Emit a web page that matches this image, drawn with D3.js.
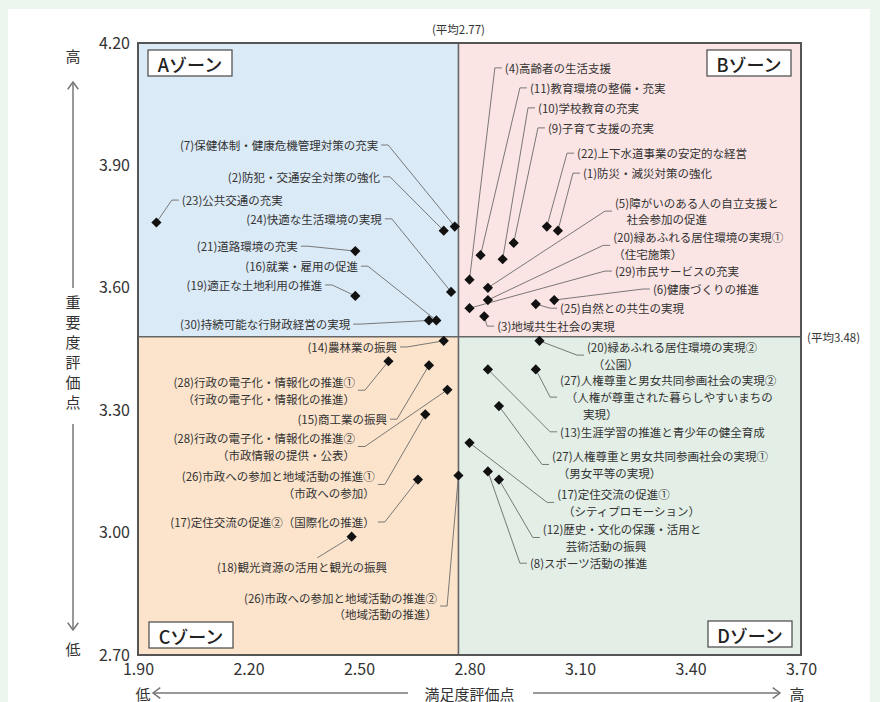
<!DOCTYPE html>
<html>
<head>
<meta charset="utf-8">
<script src="https://cdn.jsdelivr.net/npm/d3@7"></script>
<style>
  body { margin: 0; background: #ecf5ee; }
  svg { display: block; font-family: "Noto Sans CJK JP", "Noto Sans", sans-serif; }
</style>
</head>
<body>
<svg id="chart" width="880" height="702"></svg>
<script>
// 施策項目（ラベルは行ごと）
const itemNames = [
    ["(1)防災・減災対策の強化"],
    ["(2)防犯・交通安全対策の強化"],
    ["(3)地域共生社会の実現"],
    ["(4)高齢者の生活支援"],
    ["(5)障がいのある人の自立支援と", "　社会参加の促進"],
    ["(6)健康づくりの推進"],
    ["(7)保健体制・健康危機管理対策の充実"],
    ["(8)スポーツ活動の推進"],
    ["(9)子育て支援の充実"],
    ["(10)学校教育の充実"],
    ["(11)教育環境の整備・充実"],
    ["(12)歴史・文化の保護・活用と", "　　芸術活動の振興"],
    ["(13)生涯学習の推進と青少年の健全育成"],
    ["(14)農林業の振興"],
    ["(15)商工業の振興"],
    ["(16)就業・雇用の促進"],
    ["(17)定住交流の促進①", "　（シティプロモーション）"],
    ["(17)定住交流の促進②（国際化の推進）"],
    ["(18)観光資源の活用と観光の振興"],
    ["(19)適正な土地利用の推進"],
    ["(20)緑あふれる居住環境の実現①", "（住宅施策）"],
    ["(20)緑あふれる居住環境の実現②", "　（公園）"],
    ["(21)道路環境の充実"],
    ["(22)上下水道事業の安定的な経営"],
    ["(23)公共交通の充実"],
    ["(24)快適な生活環境の実現"],
    ["(25)自然との共生の実現"],
    ["(26)市政への参加と地域活動の推進①", "（市政への参加）"],
    ["(26)市政への参加と地域活動の推進②", "（地域活動の推進）"],
    ["(27)人権尊重と男女共同参画社会の実現①", "　（男女平等の実現）"],
    ["(27)人権尊重と男女共同参画社会の実現②", "　（人権が尊重された暮らしやすいまちの", "　　実現）"],
    ["(28)行政の電子化・情報化の推進①", "（行政の電子化・情報化の推進）"],
    ["(28)行政の電子化・情報化の推進②", "（市政情報の提供・公表）"],
    ["(29)市民サービスの充実"],
    ["(30)持続可能な行財政経営の実現"]
];

// 満足度評価点
const satisfaction = [
    3.04, 2.73, 2.84, 2.80, 2.85, 3.03, 2.76, 2.85, 2.92, 2.89,
    2.83, 2.88, 2.85, 2.73, 2.69, 2.71, 2.80, 2.66, 2.48, 2.49,
    2.85, 2.99, 2.49, 3.01, 1.95, 2.75, 2.98, 2.68, 2.77, 2.88,
    2.98, 2.58, 2.74, 2.80, 2.69
];

// 重要度評価点
const importance = [
    3.74, 3.74, 3.53, 3.62, 3.60, 3.57, 3.75, 3.15, 3.71, 3.67,
    3.68, 3.13, 3.40, 3.47, 3.41, 3.52, 3.22, 3.13, 2.99, 3.58,
    3.57, 3.47, 3.69, 3.75, 3.76, 3.59, 3.56, 3.29, 3.14, 3.31,
    3.40, 3.42, 3.35, 3.55, 3.52
];

const avgSatisfaction = 2.77;
const avgImportance = 3.48;

const xTicks = [1.9, 2.2, 2.5, 2.8, 3.1, 3.4, 3.7];
const yTicks = [2.7, 3.0, 3.3, 3.6, 3.9, 4.2];

const zoneNames = ["Aゾーン", "Bゾーン", "Cゾーン", "Dゾーン"];

// ラベル配置（データ座標、ラベル中心の高さと寄せ方向）
const labelLayout = [
    [3.108, 3.881, "start"], [2.557, 3.872, "end"], [2.875, 3.506, "start"],
    [2.896, 4.139, "start"], [3.195, 3.788, "start"], [3.298, 3.597, "start"],
    [2.552, 3.950, "end"], [2.964, 2.925, "start"], [3.013, 3.992, "start"],
    [2.986, 4.041, "start"], [2.964, 4.090, "start"], [2.999, 2.988, "start"],
    [3.046, 3.247, "start"], [2.603, 3.455, "end"], [2.576, 3.278, "end"],
    [2.497, 3.653, "end"], [3.038, 3.074, "start"], [2.543, 3.026, "end"],
    [2.576, 2.916, "top"], [2.400, 3.607, "end"], [3.190, 3.704, "start"],
    [3.119, 3.435, "start"], [2.334, 3.702, "end"], [3.092, 3.930, "start"],
    [2.019, 3.815, "start"], [2.562, 3.769, "end"], [3.046, 3.550, "start"],
    [2.543, 3.118, "end"], [2.712, 2.820, "end"], [3.024, 3.167, "start"],
    [3.046, 3.332, "start"], [2.489, 3.349, "end"], [2.489, 3.211, "end"],
    [3.195, 3.641, "start"], [2.476, 3.511, "end"]
];

const svg = d3.select("#chart");
const W = 880, H = 702;
const plot = { left: 138, right: 801, top: 43, bottom: 655 };
const fontSize = 11.5;
const lineH = 16.8;

const x = d3.scaleLinear().domain([1.9, 3.7]).range([plot.left, plot.right]);
const y = d3.scaleLinear().domain([2.7, 4.2]).range([plot.bottom, plot.top]);

// white panel
svg.append("rect")
    .attr("x", 8).attr("y", 9)
    .attr("width", 862).attr("height", H - 9)
    .attr("fill", "#fff");

// zones
const xa = x(avgSatisfaction), ya = y(avgImportance);
const zoneRects = [
    { x0: plot.left, x1: xa, y0: plot.top, y1: ya, fill: "#dbeaf7" },
    { x0: xa, x1: plot.right, y0: plot.top, y1: ya, fill: "#fbe4e4" },
    { x0: plot.left, x1: xa, y0: ya, y1: plot.bottom, fill: "#fce4cc" },
    { x0: xa, x1: plot.right, y0: ya, y1: plot.bottom, fill: "#e2eee6" }
];
svg.append("g").selectAll("rect")
    .data(zoneRects)
    .join("rect")
    .attr("x", d => d.x0).attr("y", d => d.y0)
    .attr("width", d => d.x1 - d.x0).attr("height", d => d.y1 - d.y0)
    .attr("fill", d => d.fill);

// average lines
svg.append("line")
    .attr("x1", xa).attr("x2", xa).attr("y1", plot.top).attr("y2", plot.bottom)
    .attr("stroke", "#666").attr("stroke-width", 1.6);
svg.append("line")
    .attr("x1", plot.left).attr("x2", plot.right).attr("y1", ya).attr("y2", ya)
    .attr("stroke", "#666").attr("stroke-width", 1.6);

// frame
svg.append("rect")
    .attr("x", plot.left).attr("y", plot.top)
    .attr("width", plot.right - plot.left).attr("height", plot.bottom - plot.top)
    .attr("fill", "none").attr("stroke", "#555").attr("stroke-width", 2);

// zone label boxes
const boxW = 84, boxH = 26;
const boxPos = [
    [plot.left + 10, plot.top + 7],
    [plot.right - 10 - boxW, plot.top + 7],
    [plot.left + 11, plot.bottom - 7 - boxH],
    [plot.right - 9 - boxW, plot.bottom - 8 - boxH]
];
const zb = svg.append("g").selectAll("g")
    .data(zoneNames)
    .join("g")
    .attr("transform", (d, i) => `translate(${boxPos[i][0]},${boxPos[i][1]})`);
zb.append("rect")
    .attr("width", boxW).attr("height", boxH)
    .attr("fill", "#fff").attr("stroke", "#555").attr("stroke-width", 1.3);
zb.append("text")
    .attr("x", boxW / 2).attr("y", boxH / 2 + 1)
    .attr("text-anchor", "middle")
    .attr("dominant-baseline", "central")
    .attr("font-size", 18).attr("font-weight", 500)
    .attr("fill", "#222")
    .text(d => d);

// axes
const xAxis = svg.append("g")
    .attr("transform", `translate(0,${plot.bottom})`)
    .call(d3.axisBottom(x).tickValues(xTicks).tickSize(0).tickPadding(9).tickFormat(d3.format(".2f")));
const yAxis = svg.append("g")
    .attr("transform", `translate(${plot.left},0)`)
    .call(d3.axisLeft(y).tickValues(yTicks).tickSize(0).tickPadding(8).tickFormat(d3.format(".2f")));
[xAxis, yAxis].forEach(a => {
    a.select(".domain").remove();
    a.attr("font-family", null).attr("font-size", 16);
    a.selectAll("text").attr("fill", "#333");
});

// average captions
svg.append("text")
    .attr("x", xa).attr("y", 29)
    .attr("text-anchor", "middle").attr("dominant-baseline", "central")
    .attr("font-size", 11.5).attr("fill", "#333")
    .text(`(平均${avgSatisfaction.toFixed(2)})`);
svg.append("text")
    .attr("x", plot.right + 6).attr("y", ya)
    .attr("dominant-baseline", "central")
    .attr("font-size", 11.5).attr("fill", "#333")
    .text(`(平均${avgImportance.toFixed(2)})`);

// axis titles with arrows
const arrowColor = "#777";
const ax = svg.append("g").attr("fill", "#333").attr("font-size", 15);
const cx = (plot.left + plot.right) / 2;
const tyX = 693;
ax.append("text").attr("x", cx).attr("y", tyX)
    .attr("text-anchor", "middle").attr("dominant-baseline", "central")
    .text("満足度評価点");
ax.append("text").attr("x", 143).attr("y", tyX)
    .attr("text-anchor", "middle").attr("dominant-baseline", "central").text("低");
ax.append("text").attr("x", 797).attr("y", tyX)
    .attr("text-anchor", "middle").attr("dominant-baseline", "central").text("高");

const cy = (plot.top + plot.bottom) / 2;
const yTitleX = 73;
ax.append("text").attr("x", yTitleX).attr("y", cy + 6)
    .attr("text-anchor", "middle")
    .style("writing-mode", "vertical-rl")
    .attr("letter-spacing", 5)
    .text("重要度評価点");
ax.append("text").attr("x", yTitleX).attr("y", 55)
    .attr("text-anchor", "middle").attr("dominant-baseline", "central").text("高");
ax.append("text").attr("x", yTitleX).attr("y", 648)
    .attr("text-anchor", "middle").attr("dominant-baseline", "central").text("低");

const arrows = [
    // [x1,y1,x2,y2] where (x2,y2) is the head
    [408, tyX, 153, tyX],
    [533, tyX, 780, tyX],
    [yTitleX, 288, yTitleX, 82],
    [yTitleX, 424, yTitleX, 630]
];
const ag = svg.append("g").attr("stroke", arrowColor).attr("stroke-width", 1.5).attr("fill", "none");
arrows.forEach(([x1, y1, x2, y2]) => {
    ag.append("line").attr("x1", x1).attr("y1", y1).attr("x2", x2).attr("y2", y2);
    const ang = Math.atan2(y2 - y1, x2 - x1);
    const L = 9, spread = Math.PI / 5;
    const p1 = [x2 - L * Math.cos(ang - spread), y2 - L * Math.sin(ang - spread)];
    const p2 = [x2 - L * Math.cos(ang + spread), y2 - L * Math.sin(ang + spread)];
    ag.append("polyline").attr("points", `${p1} ${x2},${y2} ${p2}`);
});

// labels
const items = itemNames.map((lines, i) => ({
    lines,
    sx: satisfaction[i],
    im: importance[i],
    lx: labelLayout[i][0],
    ly: labelLayout[i][1],
    side: labelLayout[i][2]
}));

const leaderG = svg.append("g");
const labelG = svg.append("g").attr("font-size", fontSize).attr("fill", "#333");

items.forEach(d => {
    const tx = x(d.lx);
    const midY = y(d.ly);
    const ty = midY - (d.lines.length - 1) * lineH / 2;
    const anchor = d.side === "start" ? "start" : "end";
    const t = labelG.append("text")
        .attr("text-anchor", anchor)
        .attr("dominant-baseline", "central");
    d.lines.forEach((s, k) => {
        t.append("tspan").attr("x", tx).attr("y", ty + k * lineH).text(s);
    });

    const px = x(d.sx), py = y(d.im);
    let pts;
    if (d.side === "start") {
        pts = [[px, py], [tx - 10, midY], [tx - 3, midY]];
    } else if (d.side === "end") {
        pts = [[px, py], [tx + 10, midY], [tx + 3, midY]];
    } else {
        const w = t.node().getComputedTextLength();
        pts = [[px, py], [tx - w * 0.41, ty - 9]];
    }
    leaderG.append("path")
        .attr("d", d3.line()(pts))
        .attr("fill", "none")
        .attr("stroke", "#6b6b6b")
        .attr("stroke-width", 0.9);
});

// markers
svg.append("g").selectAll("path")
    .data(items)
    .join("path")
    .attr("d", d3.symbol(d3.symbolSquare, 52))
    .attr("transform", d => `translate(${x(d.sx)},${y(d.im)}) rotate(45)`)
    .attr("fill", "#111");
</script>
</body>
</html>
